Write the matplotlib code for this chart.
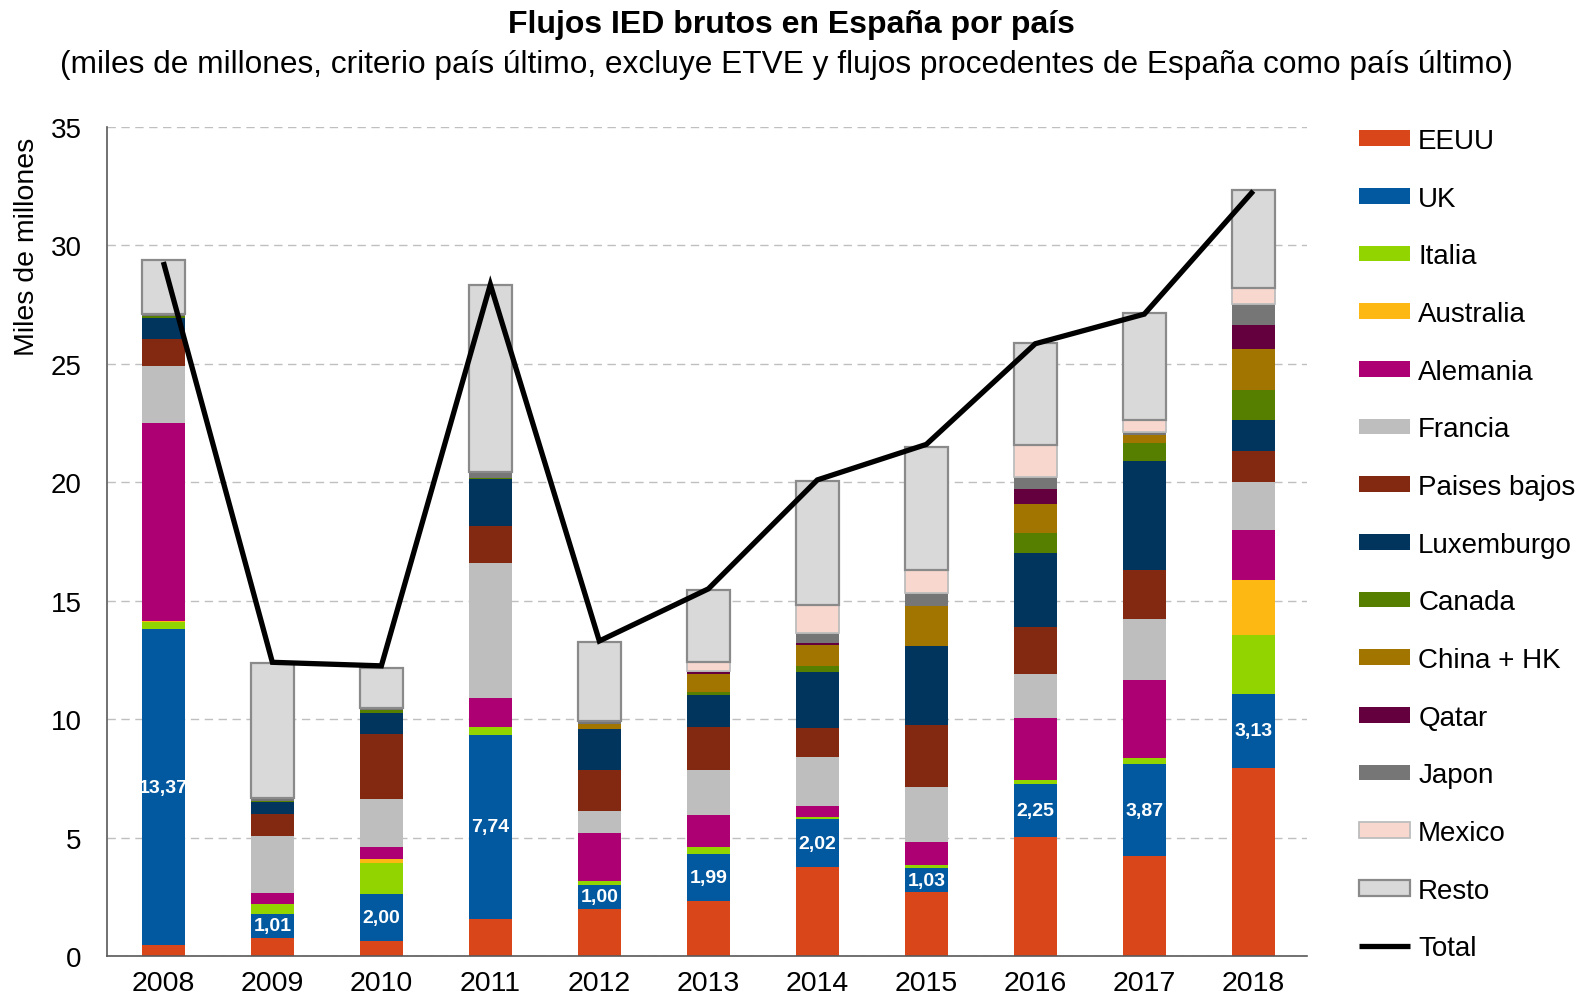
import matplotlib
matplotlib.use("Agg")
import matplotlib.pyplot as plt
import numpy as np

plt.rcParams["font.family"] = ["Liberation Sans", "DejaVu Sans"]

years = ["2008", "2009", "2010", "2011", "2012", "2013", "2014", "2015", "2016", "2017", "2018"]

eeuu = [0.45, 0.77, 0.63, 1.58, 2.00, 2.32, 3.75, 2.69, 5.02, 4.22, 7.94]
uk = [13.37, 1.01, 2.00, 7.74, 1.00, 1.99, 2.02, 1.03, 2.25, 3.87, 3.13]
italia = [0.30, 0.40, 1.30, 0.34, 0.16, 0.28, 0.10, 0.12, 0.17, 0.27, 2.48]
australia = [0.03, 0.00, 0.15, 0.00, 0.00, 0.00, 0.00, 0.00, 0.00, 0.00, 2.31]
alemania = [8.37, 0.50, 0.54, 1.24, 2.04, 1.35, 0.48, 0.98, 2.62, 3.30, 2.14]
francia = [2.40, 2.40, 2.00, 5.70, 0.93, 1.92, 2.04, 2.31, 1.83, 2.56, 2.00]
paises_bajos = [1.15, 0.90, 2.74, 1.56, 1.71, 1.80, 1.24, 2.61, 1.98, 2.06, 1.32]
luxemburgo = [0.85, 0.53, 0.92, 1.97, 1.73, 1.34, 2.37, 3.34, 3.13, 4.62, 1.33]
canada = [0.10, 0.05, 0.10, 0.05, 0.00, 0.14, 0.26, 0.00, 0.84, 0.74, 1.24]
china_hk = [0.00, 0.00, 0.00, 0.00, 0.24, 0.78, 0.89, 1.71, 1.24, 0.36, 1.72]
qatar = [0.00, 0.00, 0.00, 0.00, 0.00, 0.05, 0.06, 0.00, 0.65, 0.00, 1.05]
japon = [0.08, 0.10, 0.10, 0.25, 0.10, 0.05, 0.42, 0.52, 0.48, 0.12, 0.86]
mexico = [0.00, 0.00, 0.00, 0.00, 0.00, 0.40, 1.18, 0.98, 1.35, 0.53, 0.69]
resto = [2.28, 5.70, 1.70, 7.90, 3.35, 3.05, 5.25, 5.19, 4.34, 4.51, 4.14]
total = [29.3, 12.4, 12.25, 28.35, 13.3, 15.5, 20.1, 21.6, 25.85, 27.1, 32.3]

series = [
    ("EEUU", eeuu, "#D9461A"),
    ("UK", uk, "#02599F"),
    ("Italia", italia, "#92D400"),
    ("Australia", australia, "#FDB813"),
    ("Alemania", alemania, "#AD0072"),
    ("Francia", francia, "#BEBEBE"),
    ("Paises bajos", paises_bajos, "#832912"),
    ("Luxemburgo", luxemburgo, "#02355E"),
    ("Canada", canada, "#567F00"),
    ("China + HK", china_hk, "#A27400"),
    ("Qatar", qatar, "#65003E"),
    ("Japon", japon, "#767676"),
    ("Mexico", mexico, "#F8D7CE"),
    ("Resto", resto, "#D9D9D9"),
]
edges = {"Mexico": ("#BDBDBD", 1.3), "Resto": ("#8A8A8A", 1.6)}

fig = plt.figure(figsize=(15.83, 10.04), dpi=100)
ax = fig.add_axes([106.7 / 1583, 1 - 957 / 1004, 1200 / 1583, (957 - 128) / 1004])

x = np.arange(len(years))
bottom = np.zeros(len(years))
for name, vals, color in series:
    vals = np.array(vals)
    ec, lw = edges.get(name, (color, 0))
    ax.bar(x, vals, 0.39, bottom=bottom, color=color, edgecolor=ec, linewidth=lw,
           label=name, zorder=2)
    if name == "UK":
        for xi, b, v in zip(x, bottom, vals):
            ax.text(xi, b + v / 2, f"{v:.2f}".replace(".", ","), ha="center", va="center",
                    color="white", fontsize=14, fontweight="bold", zorder=4)
    bottom += vals

ax.plot(x, total, color="black", lw=3.8, solid_joinstyle="miter", solid_capstyle="butt",
        label="Total", zorder=3)

ax.set_xlim(-0.52, 10.49)
ax.set_ylim(0, 35)
ax.set_yticks(range(0, 36, 5))
ax.set_xticks(x)
ax.set_xticklabels(years)
ax.yaxis.grid(True, color="#BFBFBF", lw=1.0, linestyle=(0, (6, 4)), zorder=0)
ax.set_axisbelow(True)
for s in ["top", "right"]:
    ax.spines[s].set_visible(False)
for s in ["left", "bottom"]:
    ax.spines[s].set_color("#595959")
    ax.spines[s].set_linewidth(1.2)
ax.tick_params(axis="both", length=0)
ax.tick_params(axis="y", pad=18, labelsize=20)
ax.tick_params(axis="x", pad=10, labelsize=20.5)

fig.text(27.5 / 1583, 1 - 247 / 1004, "Miles de millones", rotation=90, ha="center",
         va="center", fontsize=20.5)

fig.text(0.5, 1 - 33 / 1004, "Flujos IED brutos en España por país", ha="center",
         va="baseline", fontsize=23, fontweight="bold")
fig.text(0.4965, 1 - 73 / 1004,
         "(miles de millones, criterio país último, excluye ETVE y flujos procedentes de España como país último)",
         ha="center", va="baseline", fontsize=22.8)

handles, labels = ax.get_legend_handles_labels()
order = [labels.index(n) for n, _, _ in series] + [labels.index("Total")]
leg = fig.legend([handles[i] for i in order], [labels[i] for i in order],
                 loc="upper left", bbox_to_anchor=(1359 / 1583, 1 - 129 / 1004),
                 frameon=False, fontsize=20, borderpad=0, borderaxespad=0,
                 handlelength=1.83, handleheight=0.5, handletextpad=0.3,
                 labelspacing=1.14)

fig.savefig("out.png", dpi=100)
